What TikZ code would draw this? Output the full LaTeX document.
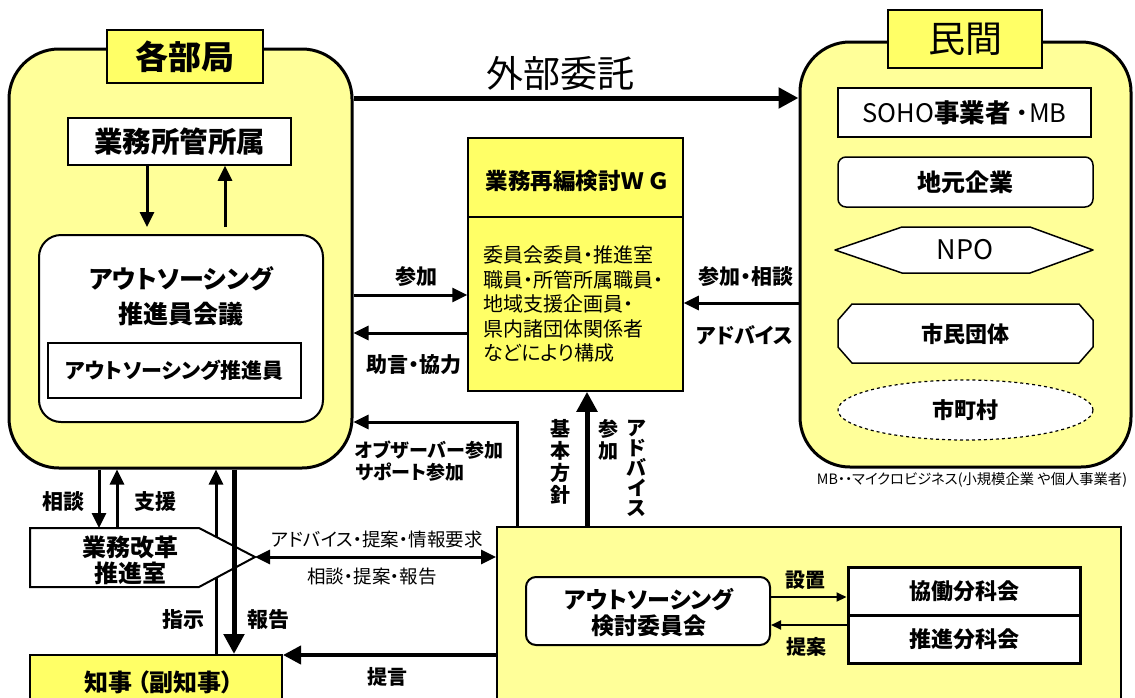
\documentclass[tikz,border=0pt]{standalone}
\usepackage{fontspec}
\setmainfont{Noto Sans CJK JP}[RawFeature=+palt]
\usetikzlibrary{arrows.meta,shapes.geometric}
\definecolor{ltyel}{HTML}{FFFF99}
\definecolor{yel}{HTML}{FFFF66}
\newcommand\fsz[2]{\fontsize{#1pt}{#2pt}\selectfont}
\tikzset{
  bigbox/.style={draw, line width=3pt, fill=ltyel, rounded corners=50pt, inner sep=0pt},
  lblbox/.style={draw, line width=1.5pt, fill=yel},
  wbox/.style={draw, line width=1.5pt, fill=white},
  wshape/.style={draw, line width=1.5pt, fill=white, line join=round},
  arr/.style={line width=3pt, -{Triangle[length=15pt,width=14pt]}},
  thickarr/.style={line width=5pt, -{Triangle[length=20pt,width=20pt]}},
  thinarr/.style={line width=2pt, -{Triangle[length=10pt,width=9pt]}},
  lbl/.style={inner sep=0pt, font=\bfseries\fsz{21}{24}},
  rlbl/.style={inner sep=0pt, font=\fsz{18.5}{20}},
}
\begin{document}
\begin{tikzpicture}[x=1pt,y=-1pt]
\clip (0,0) rectangle (1135,697);
\fill[white] (0,0) rectangle (1135,697);

% helper coordinates
\coordinate (x99) at (99,0);
\coordinate (x117) at (117,0);
\coordinate (x147) at (147,0);
\coordinate (x216) at (216,0);
\coordinate (x225) at (225,0);
\coordinate (x234) at (234,0);
\coordinate (x517) at (517,0);
\coordinate (x587) at (587,0);
\coordinate (y98) at (0,98);
\coordinate (y217) at (0,217);
\coordinate (y295) at (0,295);
\coordinate (y303) at (0,303);
\coordinate (y333) at (0,333);
\coordinate (y422) at (0,422);
\coordinate (y597) at (0,597);
\coordinate (y625) at (0,625);
\coordinate (y655) at (0,655);

% ===== 各部局 =====
\node[bigbox, minimum width=343pt, minimum height=419pt] (bukyoku) at (180.5,258.5) {};
\node[lblbox, minimum width=156pt, minimum height=53pt, font=\bfseries\fsz{33}{36}] (bukyokuL) at (185,56.5) {各部局};
\node[wbox, minimum width=223pt, minimum height=47pt, font=\bfseries\fsz{28.5}{30}] (shozoku) at (179.5,141.5) {業務所管所属};
\node[draw, line width=2pt, fill=white, rounded corners=22pt, minimum width=284pt, minimum height=187pt] (kaigi) at (181,328.5) {};
\node[font=\bfseries\fsz{25}{35}, align=center, inner sep=0pt] (kaigiT) at (181,296) {アウトソーシング\\推進員会議};
\node[draw, line width=1.2pt, fill=white, minimum width=253pt, minimum height=55pt, font=\bfseries\fsz{21}{24}] (suishinin) at (174.5,370.5) {アウトソーシング推進員};
\draw[arr, shorten >=7pt] (shozoku.south -| x147) -- (kaigi.north -| x147);
\draw[arr, shorten <=7pt] (kaigi.north -| x225) -- (shozoku.south -| x225);

% ===== 民間 =====
\node[bigbox, minimum width=331pt, minimum height=425pt] (minkan) at (965.5,254.5) {};
\node[lblbox, minimum width=154pt, minimum height=58pt, font=\fsz{37}{40}] (minkanL) at (965,39) {民間};
\node[wbox, minimum width=253pt, minimum height=49pt, font=\fsz{25.5}{28}] (soho) at (964.5,112.5) {SOHO\textbf{事業者} ・MB};
\node[wbox, rounded corners=8pt, minimum width=255pt, minimum height=50pt, font=\bfseries\fsz{24}{28}] (jimoto) at (965.5,182) {地元企業};
\draw[wshape] (835,250) -- (902,227) -- (1030,227) -- (1093,250) -- (1030,273) -- (902,273) -- cycle;
\node[font=\fsz{27}{30}] (npo) at (965,250) {NPO};
\draw[wshape] (852,304) -- (1079,304) -- (1093,320) -- (1093,347) -- (1079,363) -- (852,363) -- (838,347) -- (838,320) -- cycle;
\node[font=\bfseries\fsz{22}{26}] (shimin) at (965.5,334) {市民団体};
\node[ellipse, draw, dashed, line width=1.2pt, fill=white, minimum width=255pt, minimum height=60pt, inner sep=0pt, font=\bfseries\fsz{22}{26}] (shichoson) at (965.5,410) {市町村};
\node[font=\fsz{14.3}{16}] (note) at (972,480) {MB・・マイクロビジネス(小規模企業 や個人事業者)};

% ===== WG =====
\node[draw, line width=1.5pt, fill=yel, minimum width=215pt, minimum height=253pt] (wg) at (575.5,264.5) {};
\draw[line width=1.5pt] (wg.west |- y217) -- (wg.east |- y217);
\node[font=\bfseries\fsz{22.5}{26}] (wgT) at (577,181) {業務再編検討Ｗ\,Ｇ};
\node[anchor=west, align=left, font=\fsz{20}{24.5}, inner sep=0pt] (wgB) at (483,304) {委員会委員・推進室\\職員・所管所属職員・\\地域支援企画員・\\県内諸団体関係者\\などにより構成};

% ===== 外部委託 =====
\draw[thickarr] (bukyoku.east |- y98) -- (minkan.west |- y98);
\node[font=\fsz{37}{40}] (gaibu) at (560,73) {外部委託};

% WG connectors
\draw[arr] (bukyoku.east |- y295) -- (wg.west |- y295);
\node[lbl] (sanka1) at (416,277) {参加};
\draw[arr] (wg.west |- y333) -- (bukyoku.east |- y333);
\node[lbl] (jogen) at (414,365) {助言・協力};
\draw[arr] (minkan.west |- y303) -- (wg.east |- y303);
\node[lbl] (sanka2) at (746,277) {参加・相談};
\node[lbl] (advice1) at (745,335) {アドバイス};

% ===== bottom box =====
\node[draw, line width=2pt, fill=ltyel, minimum width=624pt, minimum height=190pt] (bottom) at (809,622) {};
\node[draw, line width=2pt, fill=white, rounded corners=10pt, minimum width=244pt, minimum height=68pt] (iinkai) at (648,611) {};
\node[font=\bfseries\fsz{23}{26}, align=center, inner sep=0pt] (iinkaiT) at (649,613) {アウトソーシング\\検討委員会};
\node[draw, line width=3pt, fill=white, minimum width=232pt, minimum height=48pt, font=\bfseries\fsz{22}{26}] (kyodo) at (964,591) {協働分科会};
\node[draw, line width=3pt, fill=white, minimum width=232pt, minimum height=48pt, font=\bfseries\fsz{22}{26}] (suishin) at (964,639) {推進分科会};
\draw[thinarr] (iinkai.east |- y597) -- (kyodo.west |- y597);
\node[lbl, font=\bfseries\fsz{20}{24}] (secchi) at (805,580) {設置};
\draw[thinarr] (suishin.west |- y625) -- (iinkai.east |- y625);
\node[lbl, font=\bfseries\fsz{20}{24}] (teian) at (806,647) {提案};

% observer arrow
\draw[arr] (bottom.north -| x517) |- (bukyoku.east |- y422);
\node[anchor=west, align=left, inner sep=0pt, font=\bfseries\fsz{19}{22}] (observer) at (355,461) {オブザーバー参加\\サポート参加};

% 基本方針 arrow
\draw[thickarr] (bottom.north -| x587) -- (wg.south -| x587);
\node[align=center, inner sep=0pt, font=\bfseries\fsz{20}{22}] (kihon) at (560,462) {基\\本\\方\\針};
\node[align=center, inner sep=0pt, font=\bfseries\fsz{20}{22}] (sanka3) at (608,440) {参\\加};
\node[align=center, inner sep=0pt, font=\bfseries\fsz{20}{20}] (advice2) at (637,468) {ア\\ド\\バ\\イ\\ス};

% ===== 業務改革推進室 / 知事 =====
\coordinate (kk1) at (30,528);
\coordinate (kk2) at (199,528);
\coordinate (kktip) at (255,557);
\coordinate (kk3) at (199,587);
\coordinate (kk4) at (30,587);
\node[draw, line width=2pt, fill=yel, minimum width=252pt, minimum height=60pt] (chiji) at (156,685) {};
\node[font=\bfseries\fsz{24}{26}] (chijiT) at (159,682) {知事 （副知事）};

\draw[arr] (bukyoku.south -| x99) -- (kk1 -| x99);
\node[lbl] (soudan) at (63,502) {相談};
\draw[arr] (kk1 -| x117) -- (bukyoku.south -| x117);
\node[lbl] (shien) at (155,502) {支援};
\draw[arr] (chiji.north -| x216) -- (bukyoku.south -| x216);
\draw[line width=2pt, fill=white] (kk1) -- (kk2) -- (kktip) -- (kk3) -- (kk4) -- cycle;
\node[align=center, inner sep=0pt, font=\bfseries\fsz{24}{26}] (kaikaku) at (130,560) {業務改革\\推進室};
\draw[thickarr] (bukyoku.south -| x234) -- (chiji.north -| x234);
\node[lbl] (shiji) at (183,620) {指示};
\node[lbl] (houkoku) at (268,620) {報告};

\draw[line width=4pt, -{Triangle[length=18pt,width=18pt]}] (bottom.west |- y655) -- (chiji.east |- y655);
\node[lbl, font=\bfseries\fsz{20}{24}] (teigen) at (387,677) {提言};

\draw[line width=3pt, {Triangle[length=15pt,width=14pt]}-{Triangle[length=15pt,width=14pt]}] (kktip) -- (bottom.west |- kktip);
\node[rlbl] (adv3) at (377,539) {アドバイス・提案・情報要求};
\node[rlbl] (soudan2) at (372,577) {相談・提案・報告};
\end{tikzpicture}
\end{document}
